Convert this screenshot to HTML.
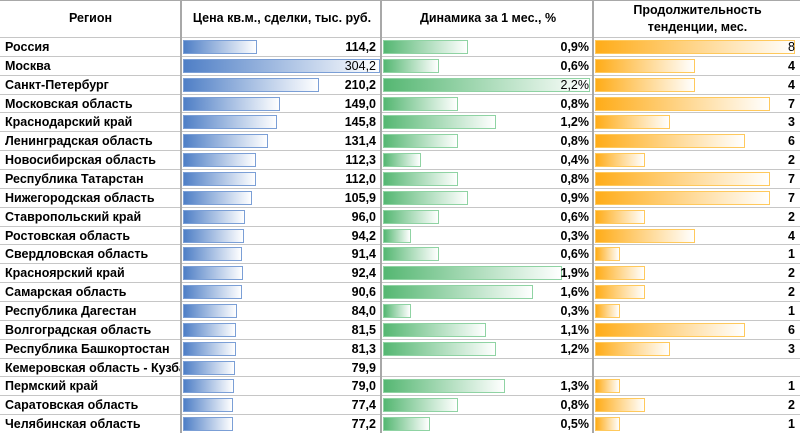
<!DOCTYPE html>
<html><head><meta charset="utf-8"><style>
body{margin:0;width:800px;height:433px;background:#fff;overflow:hidden;position:relative;font-family:"Liberation Sans",sans-serif;}
.h{position:absolute;top:0;height:37px;display:flex;align-items:center;justify-content:center;text-align:center;font-weight:bold;font-size:12.5px;color:#000;line-height:17px}
.r{position:absolute;left:0;width:800px;height:19px;border-top:1px solid #c6c6c6;box-sizing:border-box}
.r span{position:absolute;top:1px;font-size:12.5px;font-weight:bold;line-height:17px;white-space:nowrap}
.n{left:5px;width:175px;overflow:hidden}
.b{position:absolute;top:2px;height:14px;box-sizing:border-box}
.p{left:183px;background:linear-gradient(90deg,#4f7fc6,#ffffff);border:1px solid #7b9fd6}
.d{left:383px;background:linear-gradient(90deg,#55b772,#ffffff);border:1px solid #8fd3a3}
.t{left:595px;background:linear-gradient(90deg,#ffac18,#ffffff);border:1px solid #ffc95c}
.v1{right:424px;text-align:right}.v2{right:211px}.v3{right:5px}
.l{font-weight:normal!important}
.vl{position:absolute;top:0;width:2px;height:433px;background:#a8a8a8}
</style></head><body>
<div style="position:absolute;top:0;left:0;width:800px;height:1px;background:#a8a8a8"></div>
<div class="h" style="left:0;width:181px">Регион</div>
<div class="h" style="left:183px;width:198px">Цена кв.м., сделки, тыс. руб.</div>
<div class="h" style="left:383px;width:210px">Динамика за 1 мес., %</div>
<div class="h" style="left:595px;width:205px">Продолжительность<br>тенденции, мес.</div>

<div class="r" style="top:37px"><span class="n">Россия</span><div class="b p" style="width:74px"></div><span class="v1">114,2</span><div class="b d" style="width:85px"></div><span class="v2">0,9%</span><div class="b t" style="width:200px"></div><span class="v3 l">8</span></div>
<div class="r" style="top:56px"><span class="n">Москва</span><div class="b p" style="width:197px"></div><span class="v1 l">304,2</span><div class="b d" style="width:56px"></div><span class="v2">0,6%</span><div class="b t" style="width:100px"></div><span class="v3">4</span></div>
<div class="r" style="top:75px"><span class="n">Санкт-Петербург</span><div class="b p" style="width:136px"></div><span class="v1">210,2</span><div class="b d" style="width:207px"></div><span class="v2 l">2,2%</span><div class="b t" style="width:100px"></div><span class="v3">4</span></div>
<div class="r" style="top:94px"><span class="n">Московская область</span><div class="b p" style="width:97px"></div><span class="v1">149,0</span><div class="b d" style="width:75px"></div><span class="v2">0,8%</span><div class="b t" style="width:175px"></div><span class="v3">7</span></div>
<div class="r" style="top:112px"><span class="n">Краснодарский край</span><div class="b p" style="width:94px"></div><span class="v1">145,8</span><div class="b d" style="width:113px"></div><span class="v2">1,2%</span><div class="b t" style="width:75px"></div><span class="v3">3</span></div>
<div class="r" style="top:131px"><span class="n">Ленинградская область</span><div class="b p" style="width:85px"></div><span class="v1">131,4</span><div class="b d" style="width:75px"></div><span class="v2">0,8%</span><div class="b t" style="width:150px"></div><span class="v3">6</span></div>
<div class="r" style="top:150px"><span class="n">Новосибирская область</span><div class="b p" style="width:73px"></div><span class="v1">112,3</span><div class="b d" style="width:38px"></div><span class="v2">0,4%</span><div class="b t" style="width:50px"></div><span class="v3">2</span></div>
<div class="r" style="top:169px"><span class="n">Республика Татарстан</span><div class="b p" style="width:73px"></div><span class="v1">112,0</span><div class="b d" style="width:75px"></div><span class="v2">0,8%</span><div class="b t" style="width:175px"></div><span class="v3">7</span></div>
<div class="r" style="top:188px"><span class="n">Нижегородская область</span><div class="b p" style="width:69px"></div><span class="v1">105,9</span><div class="b d" style="width:85px"></div><span class="v2">0,9%</span><div class="b t" style="width:175px"></div><span class="v3">7</span></div>
<div class="r" style="top:207px"><span class="n">Ставропольский край</span><div class="b p" style="width:62px"></div><span class="v1">96,0</span><div class="b d" style="width:56px"></div><span class="v2">0,6%</span><div class="b t" style="width:50px"></div><span class="v3">2</span></div>
<div class="r" style="top:226px"><span class="n">Ростовская область</span><div class="b p" style="width:61px"></div><span class="v1">94,2</span><div class="b d" style="width:28px"></div><span class="v2">0,3%</span><div class="b t" style="width:100px"></div><span class="v3">4</span></div>
<div class="r" style="top:244px"><span class="n">Свердловская область</span><div class="b p" style="width:59px"></div><span class="v1">91,4</span><div class="b d" style="width:56px"></div><span class="v2">0,6%</span><div class="b t" style="width:25px"></div><span class="v3">1</span></div>
<div class="r" style="top:263px"><span class="n">Красноярский край</span><div class="b p" style="width:60px"></div><span class="v1">92,4</span><div class="b d" style="width:179px"></div><span class="v2">1,9%</span><div class="b t" style="width:50px"></div><span class="v3">2</span></div>
<div class="r" style="top:282px"><span class="n">Самарская область</span><div class="b p" style="width:59px"></div><span class="v1">90,6</span><div class="b d" style="width:150px"></div><span class="v2">1,6%</span><div class="b t" style="width:50px"></div><span class="v3">2</span></div>
<div class="r" style="top:301px"><span class="n">Республика Дагестан</span><div class="b p" style="width:54px"></div><span class="v1">84,0</span><div class="b d" style="width:28px"></div><span class="v2">0,3%</span><div class="b t" style="width:25px"></div><span class="v3">1</span></div>
<div class="r" style="top:320px"><span class="n">Волгоградская область</span><div class="b p" style="width:53px"></div><span class="v1">81,5</span><div class="b d" style="width:103px"></div><span class="v2">1,1%</span><div class="b t" style="width:150px"></div><span class="v3">6</span></div>
<div class="r" style="top:339px"><span class="n">Республика Башкортостан</span><div class="b p" style="width:53px"></div><span class="v1">81,3</span><div class="b d" style="width:113px"></div><span class="v2">1,2%</span><div class="b t" style="width:75px"></div><span class="v3">3</span></div>
<div class="r" style="top:358px"><span class="n">Кемеровская область - Кузбасс</span><div class="b p" style="width:52px"></div><span class="v1">79,9</span></div>
<div class="r" style="top:376px"><span class="n">Пермский край</span><div class="b p" style="width:51px"></div><span class="v1">79,0</span><div class="b d" style="width:122px"></div><span class="v2">1,3%</span><div class="b t" style="width:25px"></div><span class="v3">1</span></div>
<div class="r" style="top:395px"><span class="n">Саратовская область</span><div class="b p" style="width:50px"></div><span class="v1">77,4</span><div class="b d" style="width:75px"></div><span class="v2">0,8%</span><div class="b t" style="width:50px"></div><span class="v3">2</span></div>
<div class="r" style="top:414px"><span class="n">Челябинская область</span><div class="b p" style="width:50px"></div><span class="v1">77,2</span><div class="b d" style="width:47px"></div><span class="v2">0,5%</span><div class="b t" style="width:25px"></div><span class="v3">1</span></div>

<div class="vl" style="left:180px"></div>
<div class="vl" style="left:380px"></div>
<div class="vl" style="left:592px"></div>
</body></html>
